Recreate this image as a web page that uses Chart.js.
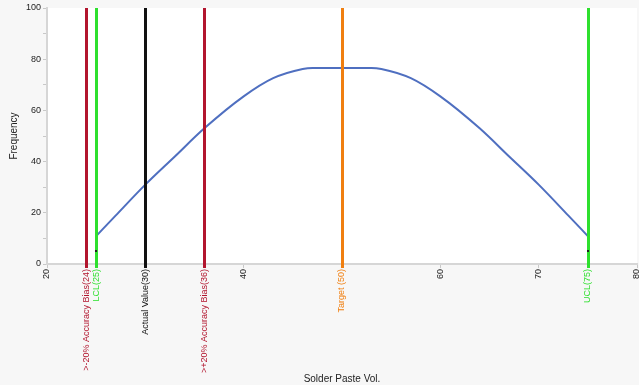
<!DOCTYPE html>
<html>
<head>
<meta charset="utf-8">
<script src="https://cdn.jsdelivr.net/npm/chart.js@4/dist/chart.umd.min.js"></script>
<style>
  html, body { margin: 0; padding: 0; background: #f7f7f7; }
  #wrap { width: 639px; height: 385px; }
</style>
</head>
<body>
<div id="wrap"><canvas id="pasteChart" width="639" height="385"></canvas></div>
<script>
// curve
const curveX = [25, 27, 30, 33, 36, 40, 43, 46, 47, 50, 53, 54, 57, 60, 64, 67, 70, 73, 75];
const curveY = [10.9, 19, 31, 42, 53, 65.5, 72.6, 76.2, 76.6, 76.6, 76.6, 76.2, 72.6, 65.5, 53, 42, 31, 19, 10.9];

// small end markers
const endX = [25, 75];
const endY = [5, 5];

// reference lines
const markerValues = [24, 25, 30, 36, 50, 75];
const markerLabels = ['>-20% Accuracy Bias(24)', 'LCL(25)', 'Actual Value(30)', '>+20% Accuracy Bias(36)', 'Target (50)', 'UCL(75)'];
const markerColors = ['#b2152e', '#2ee02e', '#111111', '#b2152e', '#f07f10', '#2ee02e'];

const xTicks = [20, 30, 40, 50, 60, 70, 80];
const hiddenTicks = [30, 50];
const yTicks = [0, 20, 40, 60, 80, 100];

const markerPlugin = {
    id: 'markers',
    beforeDraw(chart) {
        const ctx = chart.ctx;
        const a = chart.chartArea;
        ctx.save();
        ctx.fillStyle = '#f7f7f7';
        ctx.fillRect(0, 0, chart.width, chart.height);
        ctx.fillStyle = '#ffffff';
        ctx.fillRect(a.left, a.top, a.right - a.left, a.bottom - a.top);
        ctx.restore();
    },
    afterDatasetsDraw(chart) {
        const ctx = chart.ctx;
        const a = chart.chartArea;
        const xs = chart.scales.x;
        ctx.save();
        markerValues.forEach(function (v, i) {
            const px = Math.round(xs.getPixelForValue(v)) + 0.5;
            ctx.strokeStyle = markerColors[i];
            ctx.lineWidth = 3;
            ctx.beginPath();
            ctx.moveTo(px, a.top);
            ctx.lineTo(px, a.bottom + 4);
            ctx.stroke();
        });
        ctx.restore();
        // redraw the end markers on top of the lines
        const meta = chart.getDatasetMeta(1);
        ctx.save();
        ctx.fillStyle = '#222222';
        meta.data.forEach(function (p) {
            ctx.fillRect(Math.round(p.x) - 1, Math.round(p.y) - 1, 2, 2);
        });
        ctx.restore();
    },
    afterDraw(chart) {
        const ctx = chart.ctx;
        const a = chart.chartArea;
        const xs = chart.scales.x;
        ctx.save();
        ctx.font = '9px "Liberation Sans", Arial, sans-serif';
        ctx.textAlign = 'right';
        ctx.textBaseline = 'middle';
        markerValues.forEach(function (v, i) {
            const px = xs.getPixelForValue(v);
            ctx.save();
            ctx.translate(px, a.bottom + 5);
            ctx.rotate(-Math.PI / 2);
            ctx.fillStyle = markerColors[i];
            ctx.fillText(markerLabels[i], 0, 0);
            ctx.restore();
        });
        ctx.restore();
    }
};

const ctx = document.getElementById('pasteChart').getContext('2d');
const pasteChart = new Chart(ctx, {
    type: 'line',
    data: {
        datasets: [{
            label: 'Frequency',
            data: curveX.map(function (x, i) { return { x: x, y: curveY[i] }; }),
            borderColor: '#4f6fc0',
            borderWidth: 2,
            pointRadius: 0,
            cubicInterpolationMode: 'monotone',
            fill: false
        }, {
            label: 'ends',
            type: 'scatter',
            data: endX.map(function (x, i) { return { x: x, y: endY[i] }; }),
            pointRadius: 0,
            showLine: false
        }]
    },
    options: {
        responsive: false,
        animation: false,
        layout: { padding: { top: 8, right: 2, left: 0, bottom: 0 } },
        plugins: {
            legend: { display: false },
            tooltip: { enabled: false }
        },
        scales: {
            x: {
                type: 'linear',
                min: 20,
                max: 80,
                afterFit: function (s) {
                    s.height = 121;
                    s.paddingLeft = 0;
                    s.paddingRight = 0;
                },
                afterBuildTicks: function (s) { s.ticks = xTicks.map(function (v) { return { value: v }; }); },
                ticks: {
                    minRotation: 90,
                    maxRotation: 90,
                    padding: 1,
                    color: '#222',
                    font: { family: '"Liberation Sans", Arial, sans-serif', size: 9 },
                    callback: function (v) { return hiddenTicks.includes(v) ? '' : String(v); }
                },
                grid: { drawOnChartArea: false, tickLength: 4, color: '#c8c8c8' },
                border: { color: '#d6d6d6', width: 2 },
                title: {
                    display: true,
                    text: 'Solder Paste Vol.',
                    color: '#222',
                    padding: { top: 0, bottom: 0 },
                    font: { family: '"Liberation Sans", Arial, sans-serif', size: 10 }
                }
            },
            y: {
                min: 0,
                max: 100,
                afterFit: function (s) {
                    s.width = 47;
                    s.paddingTop = 0;
                    s.paddingBottom = 0;
                },
                afterBuildTicks: function (s) {
                    const t = [];
                    for (let i = 0; i < yTicks.length; i++) {
                        t.push({ value: yTicks[i] });
                        if (i < yTicks.length - 1) t.push({ value: yTicks[i] + 10 });
                    }
                    s.ticks = t;
                },
                ticks: {
                    padding: 2,
                    color: '#222',
                    font: { family: '"Liberation Sans", Arial, sans-serif', size: 9 },
                    callback: function (v) { return yTicks.includes(v) ? String(v) : ''; }
                },
                grid: { drawOnChartArea: false, tickLength: 4, color: '#c8c8c8' },
                border: { color: '#d6d6d6', width: 2 },
                title: {
                    display: true,
                    text: 'Frequency',
                    color: '#222',
                    padding: { top: 8, bottom: 4 },
                    font: { family: '"Liberation Sans", Arial, sans-serif', size: 10 }
                }
            }
        }
    },
    plugins: [markerPlugin]
});
</script>
</body>
</html>
